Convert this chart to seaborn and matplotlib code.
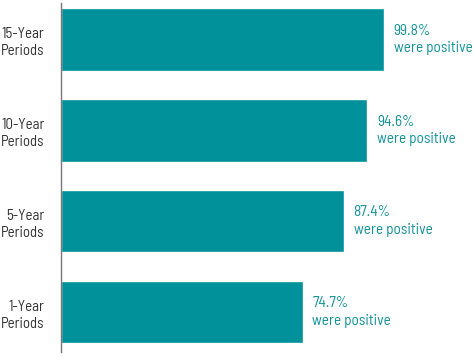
import matplotlib
matplotlib.use("Agg")
import matplotlib.pyplot as plt
import seaborn as sns
import pandas as pd

categories = ["15-Year\nPeriods", "10-Year\nPeriods", "5-Year\nPeriods", "1-Year\nPeriods"]
values = [99.8, 94.6, 87.4, 74.7]
labels = ["99.8%\nwere positive", "94.6%\nwere positive", "87.4%\nwere positive", "74.7%\nwere positive"]

df = pd.DataFrame({"cat": categories, "val": values})

sns.set_theme(style="white")
plt.rcParams['font.family'] = ['Barlow Semi Condensed', 'DejaVu Sans']

teal = "#00919A"
fig = plt.figure(figsize=(4.73, 3.57), dpi=100)
ax = fig.add_axes([61/473, 5/357, 1 - 61/473, 349/357])
sns.barplot(data=df, x="val", y="cat", color=teal, saturation=1, width=0.69, ax=ax)

for i, (v, t) in enumerate(zip(values, labels)):
    ax.text(v + 3.0, i, t, color="#12929A", fontsize=11, va="center", ha="left", linespacing=1.3)

ax.set_xlim(0, 127.3)
ax.set_ylim(3.44, -0.4)
ax.set_xlabel("")
ax.set_ylabel("")
ax.set_xticks([])
for s in ["top", "right", "bottom"]:
    ax.spines[s].set_visible(False)
ax.spines["left"].set_color("#777777")
ax.spines["left"].set_linewidth(1)
ax.tick_params(axis="y", length=0, pad=12, labelsize=10.7, labelcolor="#333333")
for lab in ax.get_yticklabels():
    lab.set_multialignment("right")
    lab.set_linespacing(1.3)

fig.savefig("out.png", dpi=100)
